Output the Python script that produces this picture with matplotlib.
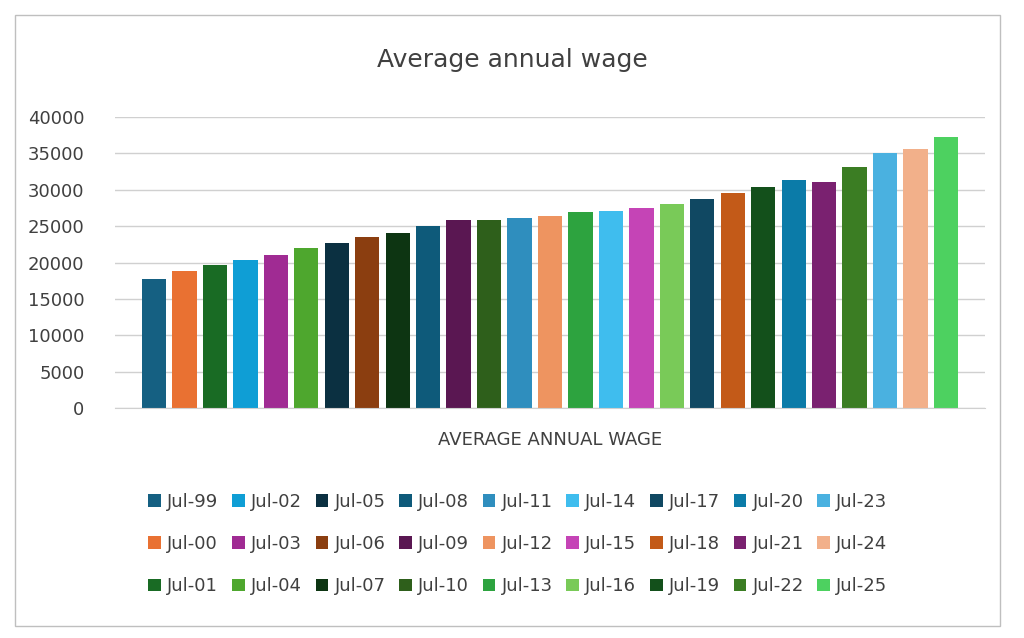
import matplotlib
matplotlib.use("Agg")
import matplotlib.pyplot as plt
from matplotlib.patches import Rectangle

labels = ["Jul-99","Jul-00","Jul-01","Jul-02","Jul-03","Jul-04","Jul-05","Jul-06","Jul-07",
          "Jul-08","Jul-09","Jul-10","Jul-11","Jul-12","Jul-13","Jul-14","Jul-15","Jul-16",
          "Jul-17","Jul-18","Jul-19","Jul-20","Jul-21","Jul-22","Jul-23","Jul-24","Jul-25"]
values = [17800,18800,19700,20300,21000,22000,22700,23500,24100,
          25000,25800,25800,26100,26400,26900,27100,27500,28000,
          28700,29500,30400,31300,31100,33100,35000,35600,37300]
colors = ["#156082","#E97132","#196B24","#0F9ED5","#A02B93","#4EA72E","#0B3041","#8B3E10","#0D3512",
          "#0E5A7A","#5A1752","#2E5F1B","#2F8EBE","#EE9460","#2DA33F","#3FBDEE","#C544B6","#79CA58",
          "#104862","#C35A18","#13501B","#0B7BA8","#7A2170","#3B7D23","#4AB1E0","#F2B08A","#4DD160"]

fig = plt.figure(figsize=(10.24, 6.38), dpi=100)
fig.patch.set_facecolor("white")
fig.add_artist(Rectangle((15/1024, 1-626/638), 985/1024, 611/638, transform=fig.transFigure,
                         fill=False, edgecolor="#BFBFBF", lw=1))
ax = fig.add_axes([115/1024, 1-408/638, 870/1024, 291/638])
handles = []
for i, (l, v, c) in enumerate(zip(labels, values, colors)):
    h = ax.bar(i, v, width=0.8, color=c, label=l)
    handles.append(h)
ax.set_xlim(-1.28, 27.28)
ax.set_ylim(0, 40000)
ax.set_yticks(range(0, 40001, 5000))
ax.tick_params(axis="y", labelsize=13, colors="#404040", length=0, pad=22)
ax.set_xticks([])
ax.grid(axis="y", color="#D0D0D0", lw=1)
ax.set_axisbelow(True)
for s in ["top", "right", "left"]:
    ax.spines[s].set_visible(False)
ax.spines["bottom"].set_color("#D0D0D0")
fig.text(512/1024, 1-60/638, "Average annual wage", ha="center", va="center", fontsize=18, color="#404040")
fig.text(550/1024, 1-440/638, "AVERAGE ANNUAL WAGE", ha="center", va="center", fontsize=13, color="#404040")
fig.legend(handles=handles, labels=labels, ncol=9, loc="center", bbox_to_anchor=(518/1024, 1-544/638),
           frameon=False, fontsize=13, labelcolor="#404040", handlelength=0.7, handleheight=0.7,
           handletextpad=0.35, columnspacing=0.75, labelspacing=1.35)
fig.savefig("out.png", dpi=100)
